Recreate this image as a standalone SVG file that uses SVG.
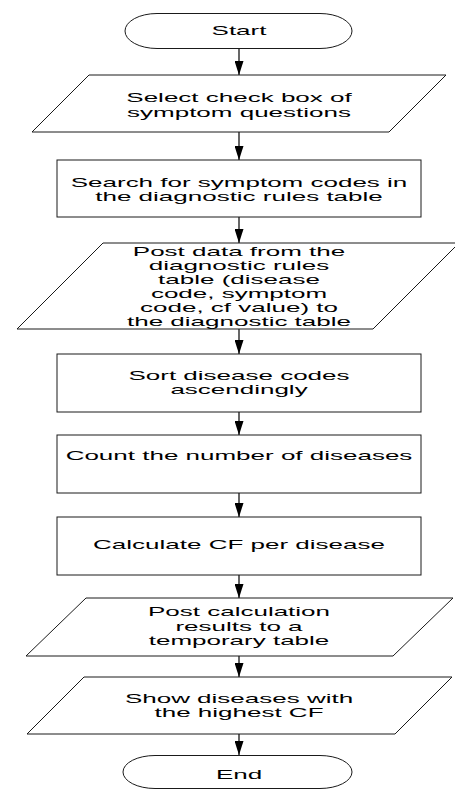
<svg xmlns="http://www.w3.org/2000/svg" width="455" height="790" viewBox="0 0 455 790">
<defs>
<style>
.shape{fill:#ffffff;stroke:#1a1a1a;stroke-width:1}
.lbl{font-family:"Liberation Sans",Arial,sans-serif;font-size:13px;fill:#000000;text-anchor:middle}
.conn{stroke:#000000;stroke-width:1.2;fill:none}
</style>
<marker id="ah" viewBox="0 0 14 9" refX="14" refY="4.5" markerUnits="userSpaceOnUse" markerWidth="14" markerHeight="9" orient="auto">
<path d="M0,0 L14,4.5 L0,9 Z" fill="#000000"/>
</marker>
</defs>
<rect x="0" y="0" width="455" height="790" fill="#ffffff"/>
<g id="connectors">
<line class="conn" x1="239" y1="48" x2="239" y2="75" marker-end="url(#ah)"/>
<line class="conn" x1="239" y1="132" x2="239" y2="160" marker-end="url(#ah)"/>
<line class="conn" x1="239" y1="217" x2="239" y2="243" marker-end="url(#ah)"/>
<line class="conn" x1="239" y1="329" x2="239" y2="354" marker-end="url(#ah)"/>
<line class="conn" x1="239" y1="412" x2="239" y2="435" marker-end="url(#ah)"/>
<line class="conn" x1="239" y1="493" x2="239" y2="517" marker-end="url(#ah)"/>
<line class="conn" x1="239" y1="575" x2="239" y2="598" marker-end="url(#ah)"/>
<line class="conn" x1="239" y1="656" x2="239" y2="677" marker-end="url(#ah)"/>
<line class="conn" x1="239" y1="734" x2="239" y2="755" marker-end="url(#ah)"/>
</g>
<g id="start">
<rect class="shape" x="125" y="13.5" width="227" height="35" rx="32" ry="17.5"/>
<text class="lbl" transform="translate(239,0) scale(2,1)"><tspan x="0" y="35">Start</tspan></text>
</g>
<g id="select">
<polygon class="shape" points="89,75 446,75 389,132 32,132"/>
<text class="lbl" transform="translate(239,0) scale(2,1)"><tspan x="0" y="102">Select check box of</tspan><tspan x="0" y="117">symptom questions</tspan></text>
</g>
<g id="search">
<rect class="shape" x="57" y="160" width="364" height="57"/>
<text class="lbl" transform="translate(239,0) scale(2,1)"><tspan x="0" y="187">Search for symptom codes in</tspan><tspan x="0" y="201">the diagnostic rules table</tspan></text>
</g>
<g id="post-data">
<polygon class="shape" points="103,243 459,243 373,329 17,329"/>
<text class="lbl" transform="translate(239,0) scale(2,1)"><tspan x="0" y="256">Post data from the</tspan><tspan x="0" y="270">diagnostic rules</tspan><tspan x="0" y="284">table (disease</tspan><tspan x="0" y="298">code, symptom</tspan><tspan x="0" y="312">code, cf value) to</tspan><tspan x="0" y="326">the diagnostic table</tspan></text>
</g>
<g id="sort">
<rect class="shape" x="57" y="354" width="364" height="58"/>
<text class="lbl" transform="translate(239,0) scale(2,1)"><tspan x="0" y="380">Sort disease codes</tspan><tspan x="0" y="394">ascendingly</tspan></text>
</g>
<g id="count">
<rect class="shape" x="57" y="435" width="364" height="58"/>
<text class="lbl" transform="translate(239,0) scale(2,1)"><tspan x="0" y="460">Count the number of diseases</tspan></text>
</g>
<g id="calculate">
<rect class="shape" x="57" y="517" width="364" height="58"/>
<text class="lbl" transform="translate(239,0) scale(2,1)"><tspan x="0" y="549">Calculate CF per disease</tspan></text>
</g>
<g id="post-results">
<polygon class="shape" points="86,598 453,598 393,656 26,656"/>
<text class="lbl" transform="translate(239,0) scale(2,1)"><tspan x="0" y="616">Post calculation</tspan><tspan x="0" y="631">results to a</tspan><tspan x="0" y="645">temporary table</tspan></text>
</g>
<g id="show">
<polygon class="shape" points="84,677 452,677 395,734 27,734"/>
<text class="lbl" transform="translate(239,0) scale(2,1)"><tspan x="0" y="703">Show diseases with</tspan><tspan x="0" y="717">the highest CF</tspan></text>
</g>
<g id="end">
<rect class="shape" x="123" y="755.5" width="229" height="33" rx="32" ry="16.5"/>
<text class="lbl" transform="translate(239,0) scale(2,1)"><tspan x="0" y="779">End</tspan></text>
</g>
</svg>
